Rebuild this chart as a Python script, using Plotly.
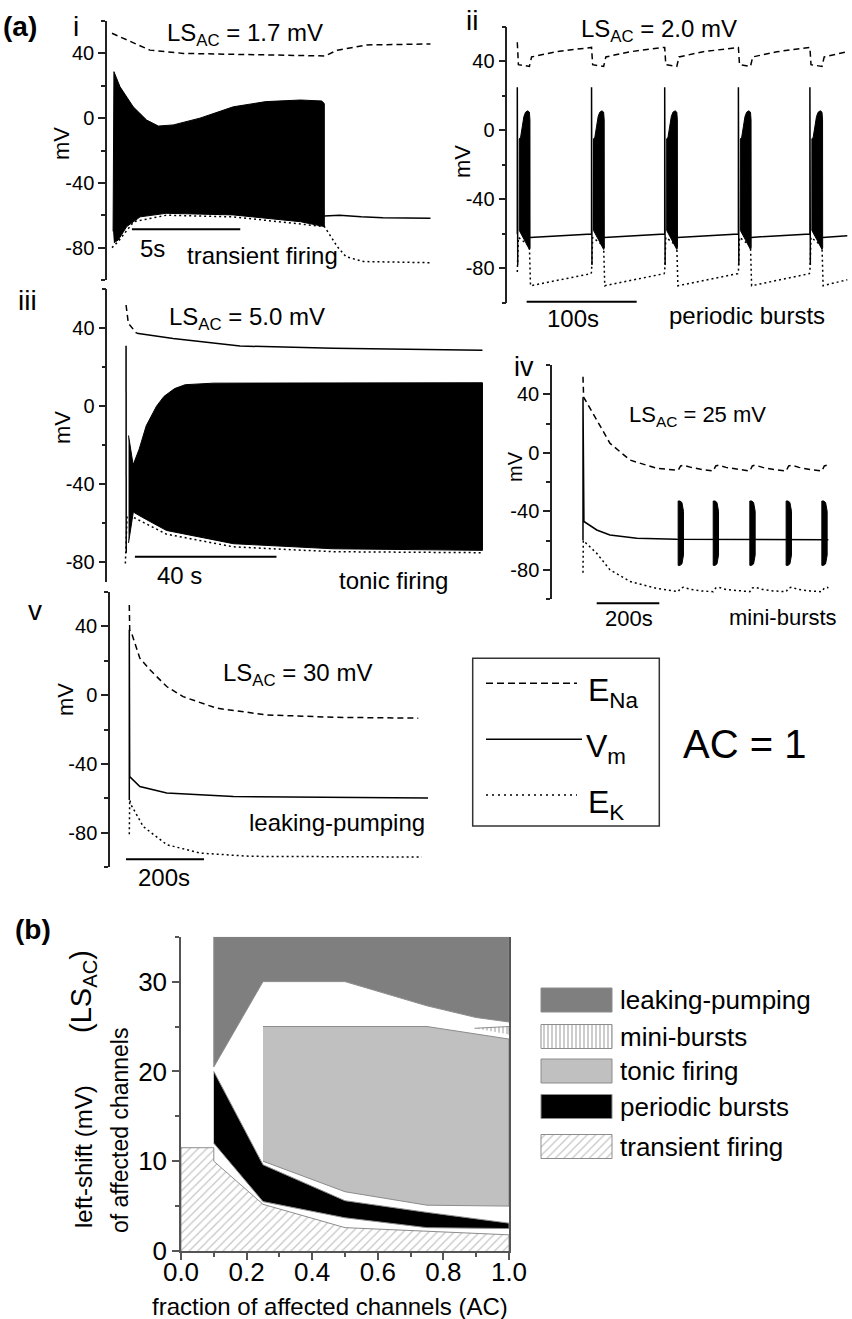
import plotly.graph_objects as go

W, H = 852, 1319
FONT = "Liberation Sans, Arial, sans-serif"
AX = "#222222"

# ---------------- (a) i : LS_AC = 1.7 mV  (time in s, potential in mV)
I_ENA_T = [0, 0.7, 1.75, 3.3, 7.1, 9.83, 10.4, 11.75, 14.7]
I_ENA = [52.4, 48.3, 42, 40, 39, 38.4, 42, 45.2, 45.8]
I_EK_T = [0, 0.3, 1, 2.5, 5.6, 9.8, 10, 10.4, 10.8, 11.6, 14.7]
I_EK = [-80, -76, -64, -60, -61, -67, -71, -79.4, -85.6, -88.6, -89.3]
I_TOP_T = [0.05, 0.09, 0.37, 0.98, 1.6, 2.14, 2.83, 4.06, 5.6, 7.1, 8.7, 9.68, 9.8]
I_TOP = [-70, 28.7, 19.4, 7, -1.2, -4.9, -4.2, 0, 7, 10.2, 11.2, 10.6, 9]
I_BOT_T = [9.8, 8.7, 5.6, 2.5, 1.3, 0.68, 0.29, 0.09]
I_BOT = [-67, -64, -59.8, -58.8, -61, -67, -75.3, -77]
I_VM_T = [9.8, 10.5, 11.5, 12.5, 14.7]
I_VM = [-60.5, -60, -61, -61.6, -61.8]

# ---------------- (a) ii : LS_AC = 2.0 mV
II_ONSETS = [0, 67.5, 134, 201, 266]
II_ENA_T = [0, 1, 11, 13, 35, 67,
            67.5, 68.5, 78.5, 80.5, 102.5, 133.5,
            134, 135, 145, 147, 169, 200.5,
            201, 202, 212, 214, 236, 265.5,
            266, 267, 277, 279, 300]
II_ENA = [51, 38, 37, 42.5, 45.5, 48,
          48, 38, 37, 42.5, 45.5, 48,
          48, 38, 37, 42.5, 45.5, 48,
          48, 38, 37, 42.5, 45.5, 48,
          48, 38, 37, 42.5, 45.5]
II_EK_T = [0, 1, 11, 12, 67,
           67.5, 68.5, 78.5, 79.5, 133.5,
           134, 135, 145, 146, 200.5,
           201, 202, 212, 213, 265.5,
           266, 267, 277, 278, 300]
II_EK = [-82, -62, -67, -90, -83,
         -82, -62, -67, -90, -83,
         -82, -62, -67, -90, -83,
         -82, -62, -67, -90, -83,
         -82, -62, -67, -90, -86.5]
II_VM_T = [0, 0, 0.4, None, 11.5, 67.5, 67.5, 67.9, None, 79, 134, 134, 134.4, None,
           145.5, 201, 201, 201.4, None, 212.5, 266, 266, 266.4, None, 277.5, 300]
II_VM = [-60, 25, -78, None, -62, -60, 25, -78, None, -62, -60, 25, -78, None,
         -62, -60, 25, -78, None, -62, -60, 25, -78, None, -62, -61]
II_BURST_TOP_DT = [1.8, 3, 4.5, 6, 7.5, 9.5, 11, 11.5]
II_BURST_TOP = [-5, -4, 2, 8, 10.5, 11.3, 10.5, 6]
II_BURST_BOT_DT = [11.6, 11, 6, 1.8]
II_BURST_BOT = [-68, -69, -63, -58]

# ---------------- (a) iii : LS_AC = 5.0 mV
III_ENA_T = [0.3, 0.95, 3.3, 13.6, 32.5, 58.8, 101]
III_ENA = [51.8, 42.4, 37.3, 34.7, 30.8, 29.7, 28.7]
III_EK_T = [0.1, 0.6, 2.5, 11.7, 30.6, 58.8, 101]
III_EK = [-80.5, -56, -57, -65.5, -72, -74.5, -75]
III_SPIKE_T = [0.3, 0.35]
III_SPIKE = [31, -75]
III_TOP_T = [1.0, 2.3, 4, 6, 8.9, 11, 14, 17, 25, 101]
III_TOP = [-15, -30, -22, -10, 0, 5, 9, 11, 11.8, 12]
III_BOT_T = [101, 58.8, 30.6, 11.7, 5, 2.35, 1.0]
III_BOT = [-73.8, -73, -70.4, -63.6, -57, -54.2, -70]

# ---------------- (a) iv : LS_AC = 25 mV
IV_ONSETS = [304, 416, 533, 649, 763]
IV_ENA_T = [0, 2, 44, 86, 150, 235, 304, 312, 321, 345, 380, 416, 424, 433, 457, 495,
            533, 541, 550, 574, 610, 649, 657, 666, 690, 725, 763, 771, 780, 784]
IV_ENA = [52, 38, 22.4, 6.5, -5, -10.6, -12, -9, -8.5, -10, -11.5, -12.5, -9, -8.5, -10, -11.5,
          -12.5, -9, -8.5, -10, -11.5, -12.5, -9, -8.5, -10, -11.5, -12.5, -9, -8.5, -9]
IV_EK_T = [0, 1, 44, 86, 150, 235, 304, 312, 321, 345, 380, 416, 424, 433, 457, 495,
           533, 541, 550, 574, 610, 649, 657, 666, 690, 725, 763, 771, 780, 784]
IV_EK = [-82, -60, -68.8, -80, -88, -92.7, -95, -92.5, -92, -93.5, -94.5, -95, -92.5, -92, -93.5, -94.5,
         -95, -92.5, -92, -93.5, -94.5, -95, -92.5, -92, -93.5, -94.5, -95, -92.5, -92, -92.5]
IV_VM_T = [0, 0, 3, 44, 86, 172, 299, 784]
IV_VM = [-60, 38, -47, -52.8, -56.2, -58.5, -59.2, -59.5]
IV_BURST_TOP_DT = [0, 6, 12, 15, 17]
IV_BURST_TOP = [-33, -33, -34, -36.5, -40]
IV_BURST_BOT_DT = [17, 15, 12, 6, 0]
IV_BURST_BOT = [-70, -74, -76, -77, -77]

# ---------------- (a) v : LS_AC = 30 mV
V_ENA_T = [0, 1, 6, 27, 53, 96, 138, 224, 352, 523, 741]
V_ENA = [52.4, 38, 36, 21.5, 14.7, 5, -0.9, -7.6, -11.5, -12.9, -13.4]
V_EK_T = [0, 1, 5, 36, 96, 181, 310, 750]
V_EK = [-81, -61, -64, -76.5, -87, -91.9, -93.8, -94.2]
V_VM_T = [0, 0, 1, 27, 96, 267, 766]
V_VM = [-61, 38, -47.4, -53.2, -57, -59, -59.9]

# ---------------- (b) regime map: fraction AC vs left-shift LS_AC (mV)
LEAK_X = [0.1, 0.1, 0.25, 0.5, 0.75, 0.9, 1.0, 1.0]
LEAK_Y = [35, 20.5, 30, 30, 27.3, 26, 25.5, 35]
MINI_X = [0.895, 1.0, 1.0]
MINI_Y = [24.8, 25.0, 24.1]
TONIC_X = [0.25, 0.75, 1.0, 1.0, 0.75, 0.5, 0.25]
TONIC_Y = [25, 25, 23.6, 5.0, 5.1, 6.6, 10]
BURST_X = [0.1, 0.25, 0.5, 0.75, 1.0, 1.0, 0.75, 0.5, 0.25, 0.1]
BURST_Y = [20, 9.6, 5.6, 4.3, 3.1, 2.5, 2.6, 3.7, 5.5, 12]
TRANS_X = [0, 0, 0.1, 0.1, 0.25, 0.5, 0.75, 1.0, 1.0]
TRANS_Y = [0, 11.5, 11.5, 10, 5.2, 2.6, 2.2, 1.8, 0]

REGIMES = ["leaking-pumping", "mini-bursts", "tonic firing", "periodic bursts", "transient firing"]

MV_TICKS = [-80, -40, 0, 40]
MV_TICKTEXT = ["-80", "-40", "0", "40"]
MV_MINOR = [-100, -60, -20, 20, 60]


def px2x(v):
    return v / W


def px2y(v):
    return 1 - v / H


def bursts(onsets, dt_top, v_top, dt_bot, v_bot):
    xs, ys = [], []
    for s in onsets:
        xs += [s + d for d in dt_top + dt_bot] + [s + dt_top[0], None]
        ys += v_top + v_bot + [v_top[0], None]
    return xs, ys


DASH = "6px,4px"
DOT = "2px,3px"
fig = go.Figure()


def line(x, y, n, dash="solid", width=1.5):
    fig.add_trace(go.Scatter(x=x, y=y, mode="lines", xaxis=f"x{n}", yaxis=f"y{n}",
                             line=dict(color="black", width=width, dash=dash),
                             showlegend=False, hoverinfo="skip", connectgaps=False))


def block(x, y, n):
    fig.add_trace(go.Scatter(x=x, y=y, mode="lines", fill="toself", fillcolor="black",
                             xaxis=f"x{n}", yaxis=f"y{n}", line=dict(color="black", width=1),
                             showlegend=False, hoverinfo="skip"))


# panel i
line(I_EK_T, I_EK, 1, DOT)
line(I_ENA_T, I_ENA, 1, DASH)
line(I_VM_T, I_VM, 1)
block(I_TOP_T + I_BOT_T, I_TOP + I_BOT, 1)

# panel ii
line(II_EK_T, II_EK, 2, DOT)
line(II_ENA_T, II_ENA, 2, DASH)
line(II_VM_T, II_VM, 2)
bx, by = bursts(II_ONSETS, II_BURST_TOP_DT, II_BURST_TOP, II_BURST_BOT_DT, II_BURST_BOT)
block(bx, by, 2)

# panel iii
line(III_EK_T, III_EK, 3, DOT)
line(III_ENA_T[:3], III_ENA[:3], 3, DASH)
line(III_ENA_T[2:], III_ENA[2:], 3)
line(III_SPIKE_T, III_SPIKE, 3)
block(III_TOP_T + III_BOT_T, III_TOP + III_BOT, 3)

# panel iv
line(IV_EK_T, IV_EK, 4, DOT)
line(IV_ENA_T, IV_ENA, 4, DASH)
line(IV_VM_T, IV_VM, 4)
bx, by = bursts(IV_ONSETS, IV_BURST_TOP_DT, IV_BURST_TOP, IV_BURST_BOT_DT, IV_BURST_BOT)
block(bx, by, 4)

# panel v
line(V_EK_T, V_EK, 5, DOT)
line(V_ENA_T, V_ENA, 5, DASH)
line(V_VM_T, V_VM, 5)

# panel (b)
EDGE = dict(color="#8c8c8c", width=1)
region_style = {
    "leaking-pumping": dict(fillcolor="#7f7f7f"),
    "mini-bursts": dict(fillcolor="white", fillpattern=dict(shape="|", fgcolor="#555555", bgcolor="white", size=4, solidity=0.3)),
    "tonic firing": dict(fillcolor="#c0c0c0"),
    "periodic bursts": dict(fillcolor="black"),
    "transient firing": dict(fillcolor="white", fillpattern=dict(shape="/", fgcolor="#8a8a8a", bgcolor="white", size=6, solidity=0.2)),
}
region_xy = {
    "leaking-pumping": (LEAK_X, LEAK_Y),
    "mini-bursts": (MINI_X, MINI_Y),
    "tonic firing": (TONIC_X, TONIC_Y),
    "periodic bursts": (BURST_X, BURST_Y),
    "transient firing": (TRANS_X, TRANS_Y),
}
for name in REGIMES:
    x, y = region_xy[name]
    fig.add_trace(go.Scatter(x=x, y=y, mode="lines", fill="toself", xaxis="x6", yaxis="y6",
                             line=EDGE, showlegend=False, hoverinfo="skip", **region_style[name]))

# legend swatches for (b), on a hidden pixel-scaled axis
LEG_X0, LEG_X1 = 541, 612
LEG_ROWS = [1000, 1036.5, 1071, 1106.5, 1146.5]
for name, cy in zip(REGIMES, LEG_ROWS):
    fig.add_trace(go.Scatter(x=[LEG_X0, LEG_X1, LEG_X1, LEG_X0, LEG_X0],
                             y=[cy - 12, cy - 12, cy + 12, cy + 12, cy - 12],
                             mode="lines", fill="toself", xaxis="x7", yaxis="y7",
                             line=EDGE, showlegend=False, hoverinfo="skip", **region_style[name]))

# ---------------- axes
panels = {
    1: dict(x=(107, 432), y=(21, 280), xr=[-0.23, 14.77], yr=[-100, 60]),
    2: dict(x=(507.3, 850), y=(26.7, 303), xr=[-9.09, 302.45], yr=[-100, 60]),
    3: dict(x=(107.3, 486), y=(289, 582), xr=[-5.0, 102.0], yr=[-90, 60]),
    4: dict(x=(552, 830), y=(365, 599), xr=[-99.0, 789.1], yr=[-100, 60]),
    5: dict(x=(110, 432), y=(592, 867), xr=[-49.5, 776.2], yr=[-100, 60]),
}
layout_axes = {}
for n, p in panels.items():
    sfx = "" if n == 1 else str(n)
    layout_axes[f"xaxis{sfx}"] = dict(domain=[px2x(p["x"][0]), px2x(p["x"][1])], range=p["xr"],
                                      anchor=f"y{sfx}", visible=False, automargin=False)
    layout_axes[f"yaxis{sfx}"] = dict(
        domain=[px2y(p["y"][1]), px2y(p["y"][0])], range=p["yr"], anchor=f"x{sfx}",
        showline=True, linecolor=AX, linewidth=1.5, ticks="outside", ticklen=7, tickwidth=1.5,
        tickcolor=AX, tickmode="array", tickvals=MV_TICKS, ticktext=MV_TICKTEXT,
        showgrid=False, zeroline=False, automargin=False,
        minor=dict(ticks="outside", ticklen=4, tickwidth=1.5, tickcolor=AX, tickmode="array",
                   tickvals=MV_MINOR),
        tickfont=dict(size=20, color="black", family=FONT))

layout_axes["xaxis6"] = dict(
    domain=[px2x(181), px2x(509)], range=[0, 1], anchor="y6", showline=True, linecolor="#555",
    linewidth=1.5, ticks="outside", ticklen=7, tickwidth=1.5, tickcolor="#555", tick0=0, dtick=0.2,
    tickformat=".1f", showgrid=False, zeroline=False, automargin=False, ticklabelstandoff=-10,
    minor=dict(ticks="outside", ticklen=4, tickwidth=1.5, tickcolor="#555", tick0=0, dtick=0.1),
    tickfont=dict(size=26, color="black", family=FONT))
layout_axes["yaxis6"] = dict(
    domain=[px2y(1251), px2y(936.7)], range=[0, 35], anchor="x6", showline=True, mirror=True,
    linecolor="#555", linewidth=1.5, ticks="outside", ticklen=7, tickwidth=1.5, tickcolor="#555",
    tick0=0, dtick=10, showgrid=False, zeroline=False, automargin=False,
    minor=dict(ticks="outside", ticklen=4, tickwidth=1.5, tickcolor="#555", tick0=0, dtick=5),
    tickfont=dict(size=26, color="black", family=FONT))
layout_axes["xaxis7"] = dict(domain=[px2x(530), px2x(620)], range=[530, 620], anchor="y7",
                             visible=False, automargin=False)
layout_axes["yaxis7"] = dict(domain=[px2y(1165), px2y(980)], range=[1165, 980], anchor="x7",
                             visible=False, automargin=False)


# ---------------- text
def txt(text, x, y, size, **kw):
    d = dict(text=text, x=px2x(x), y=px2y(y), xref="paper", yref="paper", showarrow=False,
             font=dict(size=size, family=FONT, color="black"), xanchor="center", yanchor="middle")
    d.update(kw)
    return d


annotations = [
    txt("<b>(a)</b>", 20, 26, 28),
    txt("i", 76, 26, 28),
    txt("ii", 472, 21, 28),
    txt("iii", 27, 300, 28),
    txt("iv", 524, 367, 27),
    txt("v", 35, 610, 28),
    txt("LS<sub>AC</sub> = 1.7 mV", 245, 34, 24),
    txt("LS<sub>AC</sub> = 2.0 mV", 659, 30, 24),
    txt("LS<sub>AC</sub> = 5.0 mV", 247, 318, 24),
    txt("LS<sub>AC</sub> = 25 mV", 697, 416, 22),
    txt("LS<sub>AC</sub> = 30 mV", 297, 674, 24),
    txt("mV", 62, 143, 22, textangle=-90),
    txt("mV", 463, 162, 22, textangle=-90),
    txt("mV", 63, 428, 22, textangle=-90),
    txt("mV", 515, 467, 20, textangle=-90),
    txt("mV", 65, 700, 22, textangle=-90),
    txt("5s", 152, 249, 24),
    txt("transient firing", 262, 255, 24),
    txt("100s", 573, 318, 24),
    txt("periodic bursts", 747, 316, 24),
    txt("40 s", 179, 575, 24),
    txt("tonic firing", 393, 581, 24),
    txt("200s", 629, 618, 22),
    txt("mini-bursts", 783, 617, 22),
    txt("200s", 164, 877, 24),
    txt("leaking-pumping", 337, 822, 24),
    txt("E<sub>Na</sub>", 586, 692, 32, xanchor="left"),
    txt("V<sub>m</sub>", 584, 748, 32, xanchor="left"),
    txt("E<sub>K</sub>", 586, 804, 32, xanchor="left"),
    txt("AC = 1", 744, 744, 40),
    txt("<b>(b)</b>", 33, 929, 28),
    txt("left-shift (mV)", 83, 1157, 24, textangle=-90),
    txt("(LS<sub>AC</sub>)", 83, 992, 29, textangle=-90),
    txt("of affected channels", 120, 1131, 23, textangle=-90),
    txt("fraction of affected channels (AC)", 330, 1306, 24),
]
for name, cy in zip(REGIMES, LEG_ROWS):
    annotations.append(txt(name, 618, cy, 26, xanchor="left"))

# ---------------- shapes: scale bars and (a) legend box
shapes = []
SCALE_BARS = [("x", 0.92, 5.92, 229.3), ("x2", 8.5, 108.5, 301.7), ("x3", 2.8, 42.8, 556.7),
              ("x4", 43.8, 243.8, 603.3), ("x5", -8.5, 191.5, 859.3)]
for ref, t0, t1, py in SCALE_BARS:
    shapes.append(dict(type="line", xref=ref, yref="paper", x0=t0, x1=t1, y0=px2y(py), y1=px2y(py),
                       line=dict(color="black", width=2)))
shapes.append(dict(type="rect", xref="paper", yref="paper", x0=px2x(472.7), x1=px2x(659.3),
                   y0=px2y(826), y1=px2y(658.3), line=dict(color="#333", width=1.5)))
for py, dash, x1 in [(683.3, "7px,4px", 577), (739.3, "solid", 582), (795, "2px,4px", 577)]:
    shapes.append(dict(type="line", xref="paper", yref="paper", x0=px2x(486), x1=px2x(x1),
                       y0=px2y(py), y1=px2y(py), line=dict(color="black", width=1.6, dash=dash)))

fig.update_layout(
    width=W, height=H, margin=dict(l=0, r=0, t=0, b=0),
    paper_bgcolor="white", plot_bgcolor="rgba(0,0,0,0)",
    font=dict(family=FONT, color="black"),
    showlegend=False, annotations=annotations, shapes=shapes,
    **layout_axes,
)

fig.write_html("out.html", config={"displayModeBar": False},
               post_script="document.body.style.margin='0';")
